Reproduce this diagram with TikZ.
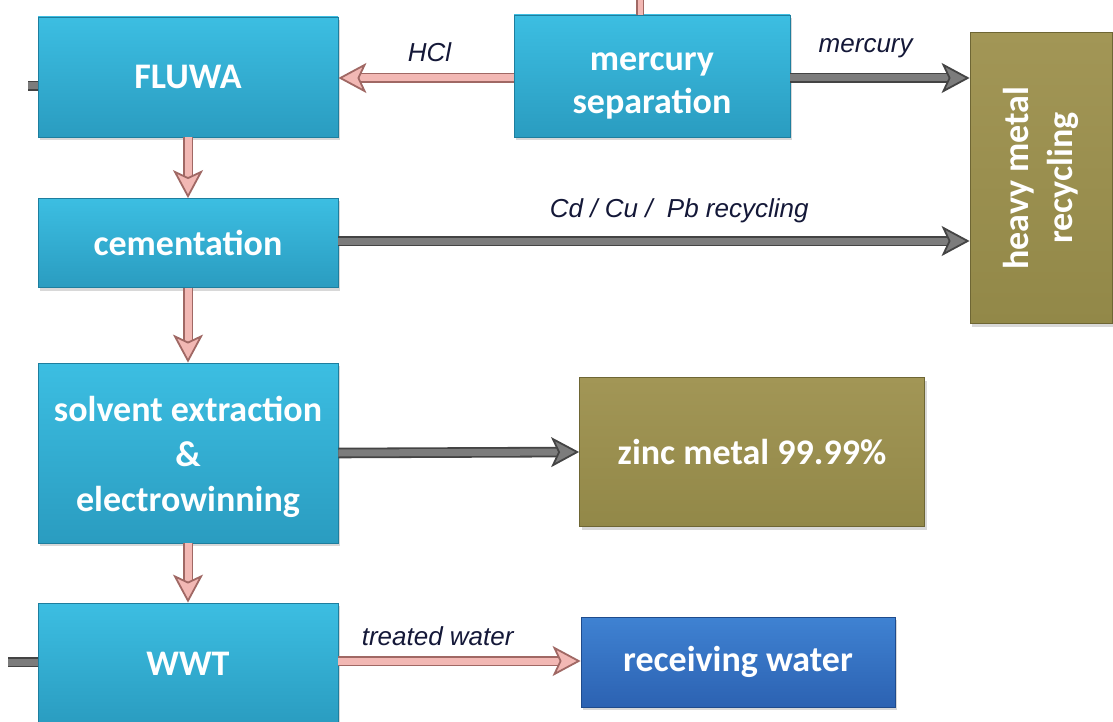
\documentclass[tikz,border=0pt]{standalone}
\usepackage{fontspec}
\setmainfont{Carlito}
\newfontfamily\labelfont{Liberation Sans}
\usetikzlibrary{arrows.meta,shadows,positioning}
\definecolor{tealtop}{HTML}{3CBEE2}
\definecolor{tealbot}{HTML}{2A9CC0}
\definecolor{tealedge}{HTML}{1E7E9E}
\definecolor{olivetop}{HTML}{A29656}
\definecolor{olivebot}{HTML}{928848}
\definecolor{oliveedge}{HTML}{6E6634}
\definecolor{bluetop}{HTML}{3F82D2}
\definecolor{bluebot}{HTML}{2C62B2}
\definecolor{blueedge}{HTML}{1F4B8C}
\definecolor{pinklight}{HTML}{F2B8B4}
\definecolor{pinkdark}{HTML}{A06864}
\definecolor{graylight}{HTML}{7C7C7C}
\definecolor{graydark}{HTML}{444444}
\definecolor{labelblue}{HTML}{141838}
\tikzset{
  procbox/.style={rectangle, inner sep=0pt, draw=tealedge, line width=0.8pt,
    top color=tealtop, bottom color=tealbot, text=white,
    font=\bfseries\fontsize{36}{43}\selectfont, align=center,
    drop shadow={opacity=0.3, shadow xshift=2pt, shadow yshift=-3pt}},
  outbox/.style={procbox, draw=oliveedge, top color=olivetop, bottom color=olivebot},
  waterbox/.style={procbox, draw=blueedge, top color=bluetop, bottom color=bluebot},
  boxtext/.style={text=white, font=\bfseries\fontsize{36}{43}\selectfont, align=center, inner sep=0pt},
  pinkflow/.style={draw=pinkdark, double=pinklight, double distance=7pt, line width=1.8pt,
    -{Stealth[length=28pt,width=30pt,inset=7pt,fill=pinklight]}},
  grayflow/.style={draw=graydark, double=graylight, double distance=7pt, line width=1.8pt,
    -{Stealth[length=28pt,width=30pt,inset=7pt,fill=graylight]}},
  pinkstub/.style={draw=pinkdark, double=pinklight, double distance=5pt, line width=1.2pt},
  graystub/.style={draw=graydark, double=graylight, double distance=7pt, line width=1.6pt},
  flowlabel/.style={font=\labelfont\itshape\fontsize{26}{30}\selectfont, text=labelblue, inner sep=0pt}
}
\begin{document}
\begin{tikzpicture}[x=1pt,y=-1pt]
\useasboundingbox[fill=white] (0,0) rectangle (1113,722);

% process boxes
\node[procbox, minimum width=300pt, minimum height=120pt] (fluwa) at (188,77) {FLUWA};
\node[procbox, minimum width=276pt, minimum height=122pt] (hgsep) at (652,76) {};
\node[boxtext, yshift=-10pt] at (hgsep.center) {mercury\\separation};
\node[procbox, minimum width=300pt, minimum height=89pt] (cem) at (188,243) {cementation};
\node[procbox, minimum width=300pt, minimum height=180pt] (sx) at (188,453) {};
\node[boxtext, yshift=-4pt] at (sx.center) {solvent extraction\\[2pt]\&\\[2pt]electrowinning};
\node[procbox, minimum width=300pt, minimum height=122pt] (wwt) at (188,664) {WWT};

% products
\node[outbox, minimum width=142pt, minimum height=291pt] (hmr) at (1041,178) {};
\node[boxtext, font=\bfseries\fontsize{36}{44}\selectfont, rotate=90] at (hmr.center) {heavy metal\\recycling};
\node[outbox, minimum width=345pt, minimum height=149pt] (zinc) at (752,452) {zinc metal 99.99\%};
\node[waterbox, minimum width=314pt, minimum height=90pt] (recv) at (738,662) {receiving water};

% main flow downwards
\draw[pinkflow] (fluwa.south) -- (cem.north);
\draw[pinkflow] (cem.south) -- (sx.north);
\draw[pinkflow] (sx.south) -- (wwt.north);

% side streams
\draw[pinkflow] (hgsep.west |- 0,78) -- (fluwa.east |- 0,78) node[flowlabel, pos=0.48, above=15pt] {HCl};
\draw[grayflow] (hgsep.east |- 0,78) -- (hmr.west |- 0,78) node[flowlabel, pos=0.42, above=19pt] {mercury};
\draw[grayflow] (cem.east |- 0,241) -- (hmr.west |- 0,241) node[flowlabel, pos=0.54, above=17pt] {Cd / Cu /\ \ Pb recycling};
\draw[grayflow] (sx.east) -- (zinc.west);
\draw[pinkflow] (wwt.east |- 0,661) -- (recv.west |- 0,661) node[flowlabel, pos=0.41, above=14pt] {treated water};

% streams leaving the visible area
\coordinate (hgin) at (640,0);
\coordinate (wwtin) at (8,662);
\coordinate (fluwain) at (28,86);
\draw[pinkstub] (hgin) -- (hgsep.north -| hgin);
\draw[graystub] (wwtin) -- (wwt.west |- wwtin);
\draw[graystub] (fluwain) -- (fluwa.west |- fluwain);
\end{tikzpicture}
\end{document}
